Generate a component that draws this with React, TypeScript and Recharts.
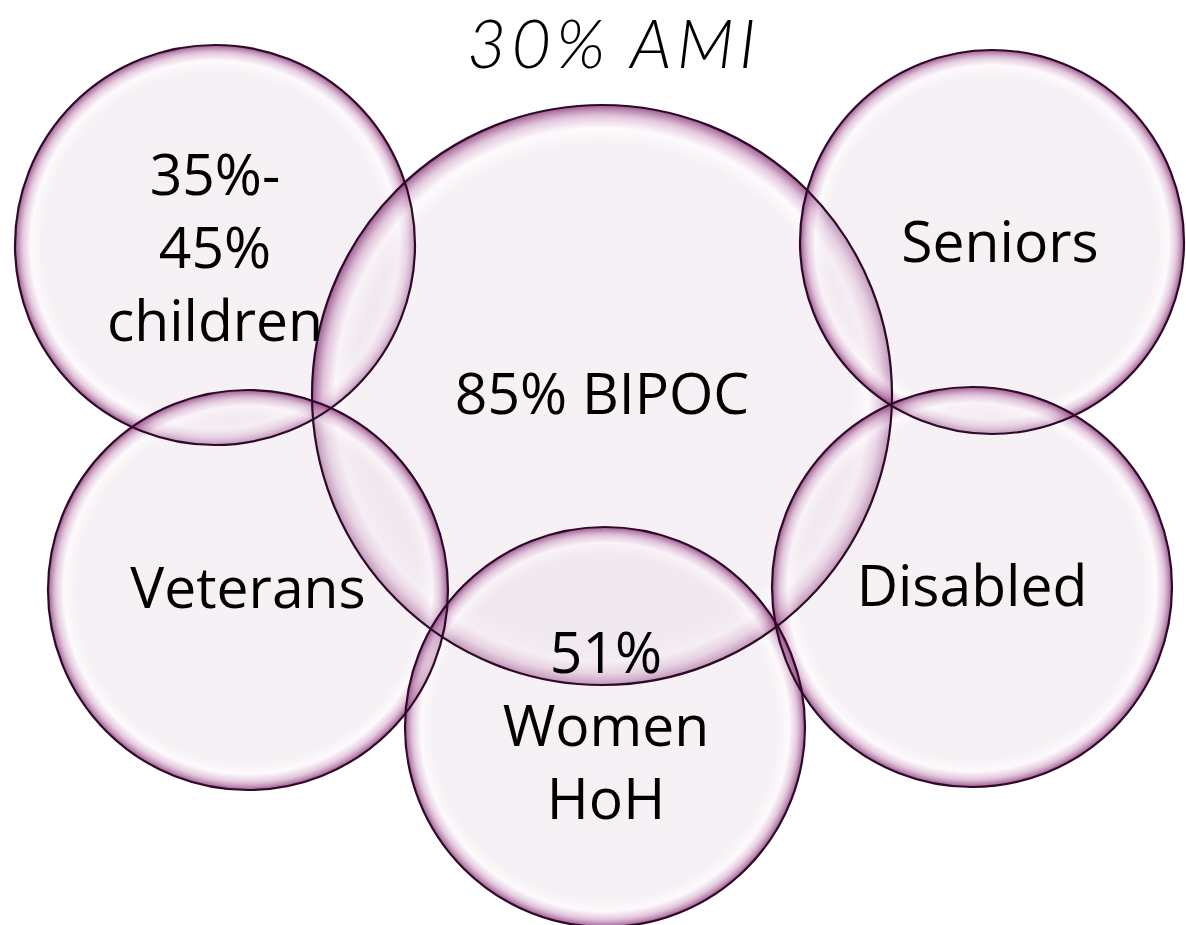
import React from "react";
import { ScatterChart, Scatter, XAxis, YAxis } from "recharts";

const W = 1186;
const H = 925;

// Circles (data units = pixels of the plotting area)
const circleNames = ["children", "BIPOC", "Seniors", "Veterans", "Disabled", "Women HoH"];
const circleX = [215, 602, 992, 248, 972, 605];
const circleY = [245, 395, 242, 590, 587, 727];
const circleR = [200, 290, 192, 200, 200, 200];

// Labels
const labelLines = [
  ["35%-", "45%", "children"],
  ["85% BIPOC"],
  ["Seniors"],
  ["Veterans"],
  ["Disabled"],
  ["51%", "Women", "HoH"],
];
const labelX = [215, 602, 1000, 248, 972, 606];
const labelY = [195, 414, 262, 608, 606, 673];

const titleText = "30% AMI";

const circles = circleNames.map((n, i) => ({ name: n, x: circleX[i], y: circleY[i], r: circleR[i] }));
const labels = labelLines.map((l, i) => ({ lines: l, x: labelX[i], y: labelY[i] }));
const titles = [{ text: titleText, x: 614, y: 68 }];

const FillShape = (props: any) => {
  const { cx, cy, payload } = props;
  return <circle cx={cx} cy={cy} r={payload.r} fill="url(#bubble)" stroke="none" />;
};

const StrokeShape = (props: any) => {
  const { cx, cy, payload } = props;
  return <circle cx={cx} cy={cy} r={payload.r} fill="none" stroke="#2e0a28" strokeWidth={2.2} />;
};

const LabelShape = (props: any) => {
  const { cx, cy, payload } = props;
  return (
    <text
      x={cx}
      y={cy}
      textAnchor="middle"
      fontFamily="'Open Sans', 'Noto Sans', sans-serif"
      fontSize={57}
      fill="#000"
    >
      {payload.lines.map((l: string, i: number) => (
        <tspan key={i} x={cx} dy={i === 0 ? 0 : 73}>
          {l}
        </tspan>
      ))}
    </text>
  );
};

const TitleShape = (props: any) => {
  const { cx, cy, payload } = props;
  return (
    <text
      x={cx}
      y={cy}
      textAnchor="middle"
      fontFamily="Lato, 'DejaVu Sans', sans-serif"
      fontStyle="italic"
      fontWeight={300}
      fontSize={68}
      letterSpacing={5}
      fill="#000"
    >
      {payload.text}
    </text>
  );
};

export default function App() {
  return (
    <div style={{ position: "absolute", left: 0, top: 0, width: W, height: H, background: "#fff" }}>
      <ScatterChart width={W} height={H} margin={{ top: 0, right: 0, bottom: 0, left: 0 }}>
        <defs>
          <radialGradient id="bubble" cx="50%" cy="50%" r="50%">
            <stop offset="0%" stopColor="#ebdfe9" stopOpacity={0.45} />
            <stop offset="86%" stopColor="#ebdfe9" stopOpacity={0.45} />
            <stop offset="92%" stopColor="#fbf6fa" stopOpacity={0.55} />
            <stop offset="96%" stopColor="#d2a6c8" stopOpacity={0.6} />
            <stop offset="100%" stopColor="#8c3c7c" stopOpacity={0.85} />
          </radialGradient>
        </defs>
        <XAxis type="number" dataKey="x" domain={[0, W]} hide />
        <YAxis type="number" dataKey="y" domain={[0, H]} reversed hide />
        <Scatter data={circles} shape={FillShape} isAnimationActive={false} />
        <Scatter data={circles} shape={StrokeShape} isAnimationActive={false} />
        <Scatter data={labels} shape={LabelShape} isAnimationActive={false} />
        <Scatter data={titles} shape={TitleShape} isAnimationActive={false} />
      </ScatterChart>
    </div>
  );
}
